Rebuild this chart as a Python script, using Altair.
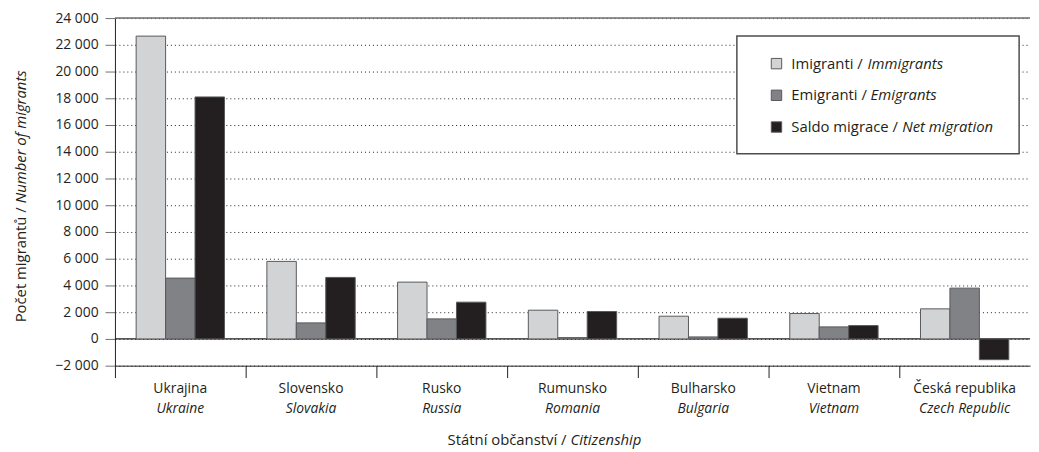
import altair as alt
import pandas as pd

# ---- data ----
categories_cz = ["Ukrajina", "Slovensko", "Rusko", "Rumunsko", "Bulharsko", "Vietnam", "Česká republika"]
categories_en = ["Ukraine", "Slovakia", "Russia", "Romania", "Bulgaria", "Vietnam", "Czech Republic"]
series_cz = ["Imigranti", "Emigranti", "Saldo migrace"]
series_en = ["Immigrants", "Emigrants", "Net migration"]
immigrants = [22650, 5800, 4250, 2150, 1700, 1900, 2250]
emigrants = [4550, 1200, 1500, 100, 150, 900, 3800]
net_migration = [18100, 4600, 2750, 2050, 1550, 1000, -1550]
y_ticks = [-2000, 0, 2000, 4000, 6000, 8000, 10000, 12000, 14000, 16000, 18000, 20000, 22000, 24000]

colors = ["#d1d3d4", "#808285", "#231f20"]

rows = []
for i, c in enumerate(categories_cz):
    for s, vals in zip(series_cz, [immigrants, emigrants, net_migration]):
        rows.append({"cat": c, "series": s, "value": vals[i]})
df = pd.DataFrame(rows)
cat_df = pd.DataFrame({"cat": categories_cz, "en": categories_en})
leg_df = pd.DataFrame({"series": series_cz, "en": series_en})
one = pd.DataFrame({"a": [0]})

W, H = 924, 351
FONT = "Open Sans"
TXT = "#231f20"

x_scale = alt.Scale(domain=categories_cz, paddingInner=0, paddingOuter=0)
y_dom = [-2000, 24000]
color_scale = alt.Scale(domain=series_cz, range=colors)

label_expr = ("datum.value < 0 ? '\u2212' + replace(format(-datum.value, 'd'), /(\\d)(?=(\\d{3})+$)/, '$1 ') "
              ": replace(format(datum.value, 'd'), /(\\d)(?=(\\d{3})+$)/, '$1 ')")

x_enc = alt.X("cat:N", scale=x_scale, sort=categories_cz,
              axis=alt.Axis(title=None, labels=False, bandPosition=0, tickSize=12,
                            tickColor=TXT, domainColor=TXT, tickWidth=1, domainWidth=1,
                            grid=False))

y_axis = alt.Axis(title=None, orient="left", values=y_ticks, labelExpr=label_expr, tickSize=10,
                  tickColor="#6d6e71", domainColor=TXT, labelColor=TXT,
                  labelFont=FONT, labelFontSize=14, labelPadding=7,
                  labelOverlap=False, labelFlush=False, labelBound=False,
                  grid=True, gridDash=[1, 3], gridColor="#231f20", gridWidth=1)

bars = alt.Chart(df).mark_bar(stroke="#58595b", strokeWidth=1).encode(
    x=x_enc,
    xOffset=alt.XOffset("series:N", sort=series_cz,
                        scale=alt.Scale(paddingInner=0, paddingOuter=0.72)),
    y=alt.Y("value:Q", scale=alt.Scale(domain=y_dom, nice=False, zero=False), axis=y_axis),
    color=alt.Color("series:N", scale=color_scale, legend=None),
)

zero_line = alt.Chart(one).mark_rule(color=TXT, strokeWidth=1.2).encode(
    y=alt.datum(0, scale=alt.Scale(domain=y_dom, nice=False, zero=False), axis=None))
top_line = alt.Chart(one).mark_rule(color="#6d6e71", strokeWidth=1.5).encode(
    y=alt.datum(24000, scale=alt.Scale(domain=y_dom, nice=False, zero=False), axis=None))

cat_cz = alt.Chart(cat_df).mark_text(font=FONT, fontSize=14, color=TXT, baseline="middle").encode(
    x=alt.X("cat:N", scale=x_scale, sort=categories_cz), y=alt.value(H + 24), text="cat:N")
cat_en = alt.Chart(cat_df).mark_text(font=FONT, fontSize=14, fontStyle="italic", color=TXT,
                                     baseline="middle").encode(
    x=alt.X("cat:N", scale=x_scale, sort=categories_cz), y=alt.value(H + 44), text="en:N")

# axis titles (mixed upright / italic)
xt1 = alt.Chart(one).mark_text(font=FONT, fontSize=15, color=TXT, align="right", baseline="middle").encode(
    x=alt.value(456), y=alt.value(H + 75), text=alt.value("Státní občanství /"))
xt2 = alt.Chart(one).mark_text(font=FONT, fontSize=15, fontStyle="italic", color=TXT, align="left",
                               baseline="middle").encode(
    x=alt.value(460), y=alt.value(H + 75), text=alt.value("Citizenship"))
yt1 = alt.Chart(one).mark_text(font=FONT, fontSize=15, color=TXT, align="right", baseline="middle",
                               angle=270).encode(
    x=alt.value(-95), y=alt.value(191), text=alt.value("Počet migrantů /"))
yt2 = alt.Chart(one).mark_text(font=FONT, fontSize=15, fontStyle="italic", color=TXT, align="left",
                               baseline="middle", angle=270).encode(
    x=alt.value(-95), y=alt.value(187), text=alt.value("Number of migrants"))

# legend box
leg_box = alt.Chart(one).mark_rect(fill="white", stroke="#4d4d4f", strokeWidth=1.5).encode(
    x=alt.value(628), x2=alt.value(913), y=alt.value(18), y2=alt.value(137))
leg_y = alt.Y("series:N", sort=series_cz, axis=None,
              scale=alt.Scale(domain=series_cz, range=[46, 110], padding=0))
leg_sym = alt.Chart(leg_df).mark_square(size=110, stroke="#58595b", strokeWidth=1, opacity=1).encode(
    x=alt.value(668), y=leg_y,
    color=alt.Color("series:N", scale=color_scale, legend=None))
leg_cz = alt.Chart(leg_df).transform_calculate(slash="datum.series + ' /'").mark_text(
    font=FONT, fontSize=15, color=TXT, align="left", baseline="middle").encode(
    x=alt.value(683), y=leg_y, text=alt.Text("slash:N"))
leg_en = []
for s, dx in zip(series_cz, [77, 80, 112]):
    leg_en.append(
        alt.Chart(leg_df).transform_filter(alt.datum.series == s).mark_text(
            font=FONT, fontSize=15, fontStyle="italic", color=TXT, align="left", baseline="middle"
        ).encode(x=alt.value(683 + dx), y=leg_y, text=alt.Text("en:N"))
    )
legend = alt.layer(leg_box, leg_sym, leg_cz, *leg_en)

chart = alt.layer(
    zero_line, top_line, bars, cat_cz, cat_en, xt1, xt2, yt1, yt2, legend
).resolve_scale(y="independent").properties(
    width=W, height=H,
    padding={"left": 6, "top": 1, "right": 0, "bottom": 2},
).configure_view(stroke=None)

chart.save("out.html", embed_options={"renderer": "svg", "actions": False})
